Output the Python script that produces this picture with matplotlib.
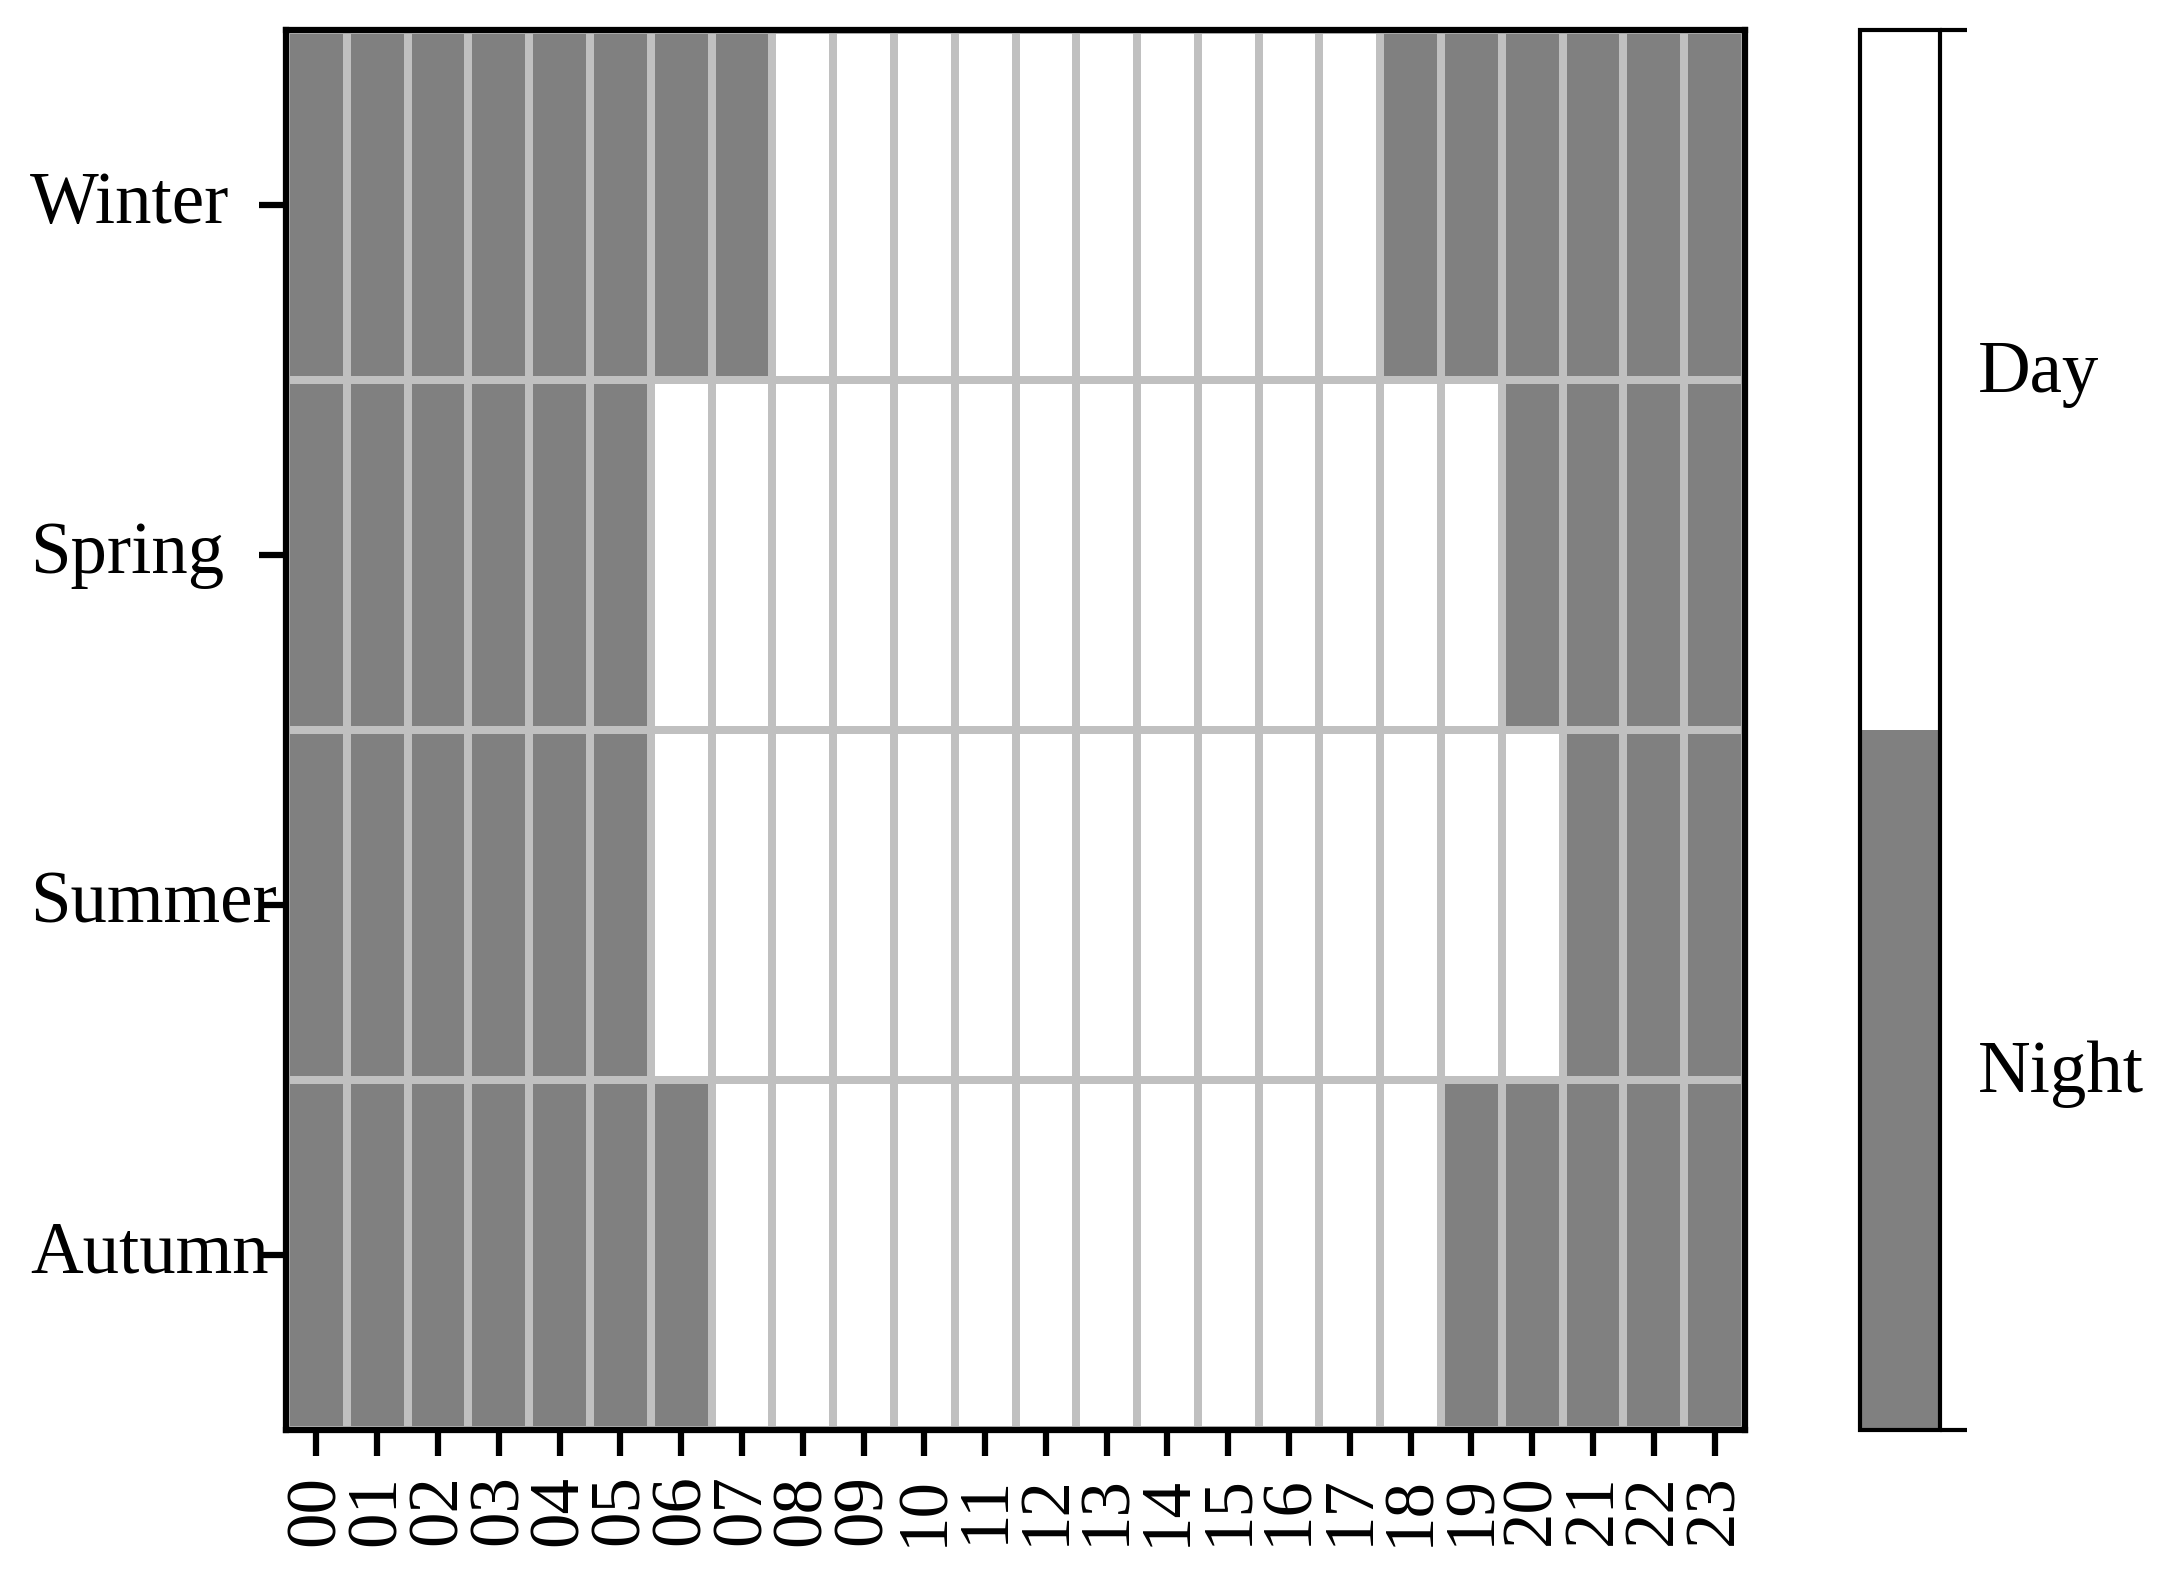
import matplotlib
matplotlib.use("Agg")
import matplotlib.pyplot as plt
import numpy as np
from matplotlib.colors import ListedColormap

plt.rcParams['font.family'] = ['Liberation Serif', 'DejaVu Serif']

# 0 = night, 1 = day
estacoes = ["Winter", "Spring", "Summer", "Autumn"]
horas = ["%02d" % h for h in range(24)]
inverno = [0, 0, 0, 0, 0, 0, 0, 0, 1, 1, 1, 1, 1, 1, 1, 1, 1, 1, 0, 0, 0, 0, 0, 0]
primavera = [0, 0, 0, 0, 0, 0, 1, 1, 1, 1, 1, 1, 1, 1, 1, 1, 1, 1, 1, 1, 0, 0, 0, 0]
verao = [0, 0, 0, 0, 0, 0, 1, 1, 1, 1, 1, 1, 1, 1, 1, 1, 1, 1, 1, 1, 1, 0, 0, 0]
outono = [0, 0, 0, 0, 0, 0, 0, 1, 1, 1, 1, 1, 1, 1, 1, 1, 1, 1, 1, 0, 0, 0, 0, 0]
rotulos_barra = ["Night", "Day"]

dados = np.array([inverno, primavera, verao, outono])
cmap = ListedColormap(["#808080", "#ffffff"])
fs = 17.5

fig = plt.figure(figsize=(7.25, 1579 / 300), dpi=300)
ax = fig.add_axes([0.1315, 0.0944, 0.6708, 0.8866])
cax = fig.add_axes([0.8552, 0.0944, 0.0368, 0.8866])

malha = ax.pcolormesh(dados, cmap=cmap, vmin=0, vmax=1,
                      edgecolors="#c0c0c0", linewidth=1.45)
ax.set_xlim(0, 24)
ax.set_ylim(4, 0)

ax.set_xticks(np.arange(24) + 0.5)
ax.set_xticklabels(horas, rotation=90, fontsize=17)
ax.set_yticks(np.arange(4) + 0.5)
ax.set_yticklabels(estacoes, fontsize=fs, ha="left", va="center")
ax.tick_params(axis="x", length=6.2, width=1.5, pad=4.5)
ax.tick_params(axis="y", length=6.5, width=1.5, pad=55)
for s in ax.spines.values():
    s.set_linewidth(1.5)

cb = fig.colorbar(malha, cax=cax)
cb.outline.set_linewidth(1.0)
cb.set_ticks([0, 1])
cb.set_ticklabels(["", ""])
cb.ax.tick_params(which="major", length=6.5, width=1.0)
cb.ax.set_yticks([0.26, 0.76], labels=rotulos_barra, minor=True)
cb.ax.tick_params(which="minor", length=0, pad=9, labelsize=fs)

fig.savefig("out.png", dpi=300)
